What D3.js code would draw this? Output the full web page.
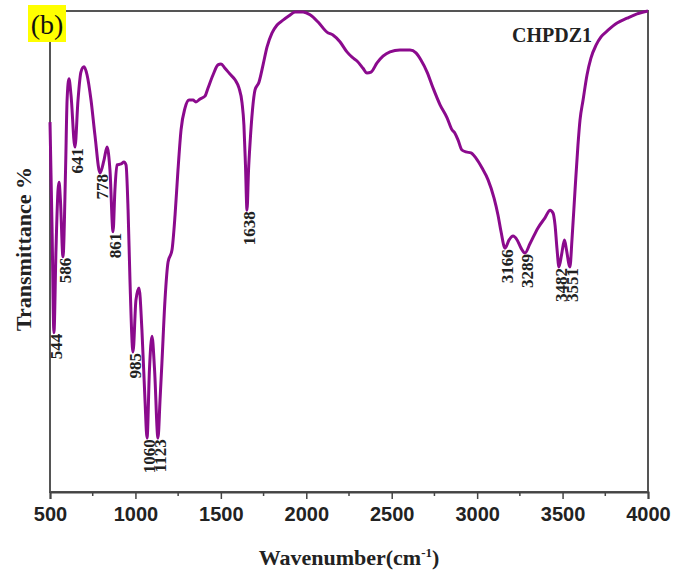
<!DOCTYPE html>
<html>
<head>
<meta charset="utf-8">
<script src="https://cdn.jsdelivr.net/npm/d3@7"></script>
<style>
  body { margin: 0; background: #fff; }
</style>
</head>
<body>
<script>
// spectrum: wavenumber (cm-1) and transmittance (arb. %)
const wavenumber = [500, 512, 523, 535, 547, 553, 561, 576, 591, 600, 611, 623, 646, 664, 681, 699, 717, 740, 763, 793,
    816, 834, 851, 869, 880, 892, 916, 933, 945, 957, 968, 986, 1003, 1021, 1038, 1056, 1068, 1082, 1097, 1112,
    1132, 1144, 1155, 1173, 1191, 1214, 1232, 1249, 1267, 1290, 1314, 1337, 1354, 1378, 1407, 1425, 1454, 1483, 1501, 1524,
    1553, 1583, 1606, 1624, 1635, 1644, 1653, 1662, 1671, 1685, 1700, 1723, 1747, 1770, 1799, 1829, 1864, 1899, 1934, 1981,
    2022, 2069, 2121, 2156, 2197, 2238, 2268, 2297, 2332, 2355, 2379, 2414, 2449, 2490, 2548, 2607, 2642, 2671, 2707, 2742,
    2783, 2824, 2853, 2870, 2888, 2911, 2935, 2964, 2993, 3028, 3064, 3099, 3122, 3140, 3163, 3187, 3210, 3234, 3257, 3280,
    3309, 3356, 3397, 3427, 3444, 3456, 3467, 3479, 3494, 3511, 3523, 3543, 3555, 3573, 3590, 3602, 3620, 3643, 3666, 3696,
    3725, 3766, 3819, 3877, 3936, 4000];
const transmittance = [76.9, 54.9, 33.1, 50.3, 62.8, 64.4, 60.7, 48.9, 66.9, 81.5, 85.9, 82.5, 71.7, 81.5, 87.3, 88.4, 86.7, 81.5, 74.2, 66.3,
    69.0, 71.7, 66.9, 54.1, 62.8, 68.0, 68.2, 68.6, 68.0, 58.6, 44.1, 29.1, 39.9, 42.4, 33.7, 19.1, 11.2, 25.4, 32.4, 25.4,
    11.2, 19.1, 26.8, 39.9, 47.8, 50.3, 57.6, 66.9, 75.3, 79.8, 81.5, 81.5, 81.1, 81.7, 82.3, 84.0, 86.7, 88.8, 89.0, 88.1,
    86.9, 85.7, 84.0, 80.9, 76.3, 68.0, 58.6, 66.9, 72.6, 79.4, 83.6, 85.2, 88.8, 92.5, 95.4, 97.1, 98.1, 99.0, 99.8, 99.8,
    99.2, 97.7, 95.6, 95.0, 93.6, 91.5, 90.4, 89.6, 88.1, 87.1, 87.3, 89.2, 90.6, 91.5, 91.9, 91.9, 91.3, 89.8, 87.3, 84.0,
    80.5, 77.8, 75.3, 74.6, 73.2, 71.1, 70.7, 70.5, 69.4, 67.4, 64.9, 61.1, 57.6, 54.1, 50.7, 52.4, 53.2, 52.4, 50.7, 49.7,
    51.6, 54.9, 57.0, 58.6, 58.0, 55.5, 50.7, 46.8, 49.3, 52.4, 50.3, 46.8, 52.4, 62.8, 72.1, 77.3, 81.5, 86.7, 90.2, 92.9,
    94.6, 96.0, 97.5, 98.5, 99.4, 100];

// band labels and the dip they sit on
const peakLabels = ["544", "586", "641", "778", "861", "985", "1060", "1123", "1638", "3166", "3289", "3482", "3551"];
const peakWn = [523, 576, 646, 793, 869, 986, 1068, 1132, 1653, 3163, 3280, 3479, 3543];
const peakT = [33.1, 48.9, 71.7, 66.3, 54.1, 29.1, 11.2, 11.2, 58.6, 50.7, 49.7, 46.8, 46.8];

const xTicks = [500, 1000, 1500, 2000, 2500, 3000, 3500, 4000];
const xMinor = [750, 1250, 1750, 2250, 2750, 3250, 3750];

const data = wavenumber.map((w, i) => ({ w: w, t: transmittance[i] }));

const plotLeft = 50, plotRight = 648, plotTop = 11, plotBottom = 492;

const svg = d3.select("body").append("svg")
    .attr("width", 673)
    .attr("height", 576);

const x = d3.scaleLinear().domain([500, 4000]).range([plotLeft, plotRight]);
const y = d3.scaleLinear().domain([0, 100]).range([plotBottom, plotTop]);

// frame
svg.append("rect")
    .attr("x", plotLeft)
    .attr("y", plotTop)
    .attr("width", plotRight - plotLeft)
    .attr("height", plotBottom - plotTop)
    .attr("fill", "none")
    .attr("stroke", "#555")
    .attr("stroke-width", 2);

// x axis
const xAxis = svg.append("g")
    .attr("transform", `translate(0,${plotBottom})`)
    .call(d3.axisBottom(x).tickValues(xTicks).tickFormat(d3.format("d")).tickSize(7).tickPadding(8));
xAxis.select(".domain").attr("stroke", "#444").attr("stroke-width", 2);
xAxis.selectAll(".tick line").attr("stroke", "#444").attr("stroke-width", 1.5);
xAxis.selectAll(".tick text")
    .attr("fill", "#222")
    .style("font-family", "Liberation Sans, Arial, sans-serif")
    .style("font-weight", "bold")
    .style("font-size", "20px");

svg.append("g")
    .selectAll("line")
    .data(xMinor)
    .join("line")
    .attr("x1", d => x(d))
    .attr("x2", d => x(d))
    .attr("y1", plotBottom)
    .attr("y2", plotBottom + 4)
    .attr("stroke", "#444")
    .attr("stroke-width", 1.5);

// spectrum
const line = d3.line()
    .x(d => x(d.w))
    .y(d => y(d.t))
    .curve(d3.curveMonotoneX);

svg.append("path")
    .datum(data)
    .attr("d", line)
    .attr("fill", "none")
    .attr("stroke", "#8b0a8d")
    .attr("stroke-width", 3)
    .attr("stroke-linejoin", "round");

// peak labels, vertical, reading upward, hanging under each dip
svg.append("g")
    .selectAll("text")
    .data(peakLabels)
    .join("text")
    .attr("transform", (d, i) => `translate(${x(peakWn[i]) + 2},${y(peakT[i]) + 1}) rotate(-90)`)
    .attr("text-anchor", "end")
    .attr("dy", "0.35em")
    .attr("fill", "#222")
    .style("font-family", "Liberation Serif, Times New Roman, serif")
    .style("font-weight", "bold")
    .style("font-size", "17px")
    .text(d => d);

// titles
const xTitle = svg.append("text")
    .attr("x", 349)
    .attr("y", 565)
    .attr("text-anchor", "middle")
    .attr("fill", "#222")
    .style("font-family", "Liberation Serif, Times New Roman, serif")
    .style("font-weight", "bold")
    .style("font-size", "22px");
xTitle.append("tspan").text("Wavenumber(cm");
xTitle.append("tspan").attr("dy", -8).style("font-size", "13px").text("-1");
xTitle.append("tspan").attr("dy", 8).text(")");

svg.append("text")
    .attr("transform", "translate(31,249) rotate(-90)")
    .attr("text-anchor", "middle")
    .attr("fill", "#222")
    .style("font-family", "Liberation Serif, Times New Roman, serif")
    .style("font-weight", "bold")
    .style("font-size", "22px")
    .text("Transmittance %");

svg.append("text")
    .attr("x", 512)
    .attr("y", 42)
    .attr("fill", "#222")
    .style("font-family", "Liberation Serif, Times New Roman, serif")
    .style("font-weight", "bold")
    .style("font-size", "20px")
    .text("CHPDZ1");

// panel tag
svg.append("rect")
    .attr("x", 28)
    .attr("y", 5)
    .attr("width", 38)
    .attr("height", 37)
    .attr("fill", "#ffff00");

svg.append("text")
    .attr("x", 47)
    .attr("y", 34)
    .attr("text-anchor", "middle")
    .attr("fill", "#111")
    .style("font-family", "Liberation Serif, Times New Roman, serif")
    .style("font-size", "28px")
    .text("(b)");
</script>
</body>
</html>
